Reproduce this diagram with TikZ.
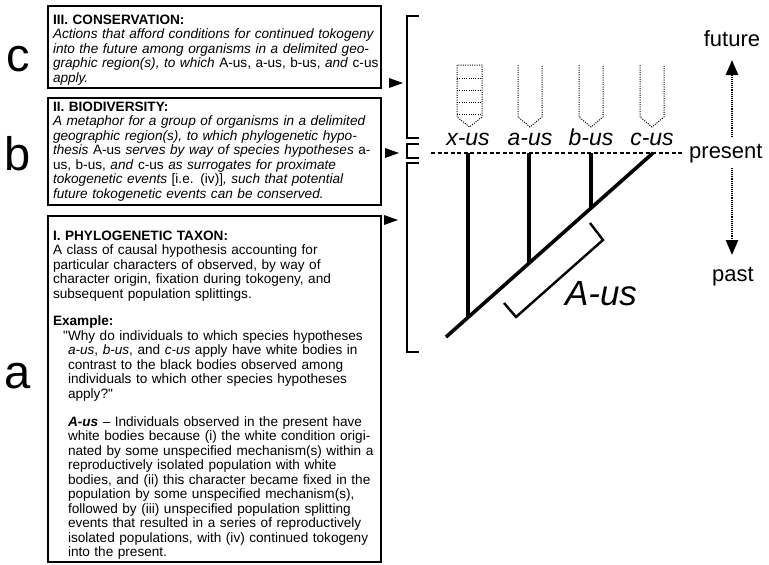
\documentclass[tikz,border=0pt]{standalone}
\usepackage{fontspec}
\setmainfont{Liberation Sans}
\usetikzlibrary{arrows.meta,calc}

\newcommand{\boxfont}{\fontsize{13.6}{14.5}\selectfont}
\newcommand{\gapline}{\\[13.4pt]}
\newcommand{\ind}{\hspace*{15pt}}

\begin{document}
\begin{tikzpicture}[x=1pt,y=-1pt,
  frame/.style={draw,line width=2pt,inner sep=0pt,outer sep=0pt,anchor=north west},
  boxtext/.style={inner sep=0pt,outer sep=0pt,anchor=north west,align=left,text width=340pt,font=\boxfont},
  bigletter/.style={inner sep=0pt,anchor=base,font=\fontsize{47}{47}\selectfont},
  pointer/.style={fill=black},
  brace/.style={line width=2pt},
  branch/.style={line width=3.6pt},
  nowline/.style={line width=2pt,dash pattern=on 4pt off 2.5pt},
  ghost/.style={line width=1pt,dash pattern=on 1pt off 1.3pt},
  taxlabel/.style={inner sep=0pt,anchor=base,font=\fontsize{23}{23}\selectfont\itshape},
  timelabel/.style={inner sep=0pt,font=\fontsize{22}{22}\selectfont},
  timearrow/.style={line width=2.6pt,dash pattern=on 1pt off 0.9pt,-{Triangle[width=12pt,length=15pt]}}
]
\useasboundingbox (0,0) rectangle (769,565);

% ---------- left column: the three definitions ----------
\node[frame,minimum width=333pt,minimum height=82pt] (boxIII) at (48,6) {};
\node[boxtext] (txtIII) at (53,13.9) {\strut\textbf{III. CONSERVATION:}\\
\textit{Actions that afford conditions for continued tokogeny}\\
\textit{into the future among organisms in a delimited geo-}\\
\textit{graphic region(s), to which} A-us, a-us, b-us, \textit{and} c-us\\
\textit{apply.}};

\node[frame,minimum width=333pt,minimum height=107pt] (boxII) at (48,98) {};
\node[boxtext] (txtII) at (53,101) {\strut\textbf{II. BIODIVERSITY:}\\
\textit{A metaphor for a group of organisms in a delimited}\\
\textit{geographic region(s), to which phylogenetic hypo-}\\
\textit{thesis} A-us \textit{serves by way of species hypotheses} a-\\
us, b-us, \textit{and} c-us \textit{as surrogates for proximate}\\
\textit{tokogenetic events} [i.e. (iv)]\textit{, such that potential}\\
\textit{future tokogenetic events can be conserved.}};

\node[frame,minimum width=333pt,minimum height=346pt] (boxI) at (48,216) {};
\node[boxtext] (txtI) at (53,229.9) {\strut\textbf{I. PHYLOGENETIC TAXON:}\\
A class of causal hypothesis accounting for\\
particular characters of observed, by way of\\
character origin, fixation during tokogeny, and\\
subsequent population splittings.\gapline
\textbf{Example:}\\
\ind\llap{\textquotedbl}Why do individuals to which species hypotheses\\
\ind\textit{a-us}, \textit{b-us}, and \textit{c-us} apply have white bodies in\\
\ind contrast to the black bodies observed among\\
\ind individuals to which other species hypotheses\\
\ind apply?\textquotedbl\gapline
\ind\textbf{\textit{A-us}} -- Individuals observed in the present have\\
\ind white bodies because (i) the white condition origi-\\
\ind nated by some unspecified mechanism(s) within a\\
\ind reproductively isolated population with white\\
\ind bodies, and (ii) this character became fixed in the\\
\ind population by some unspecified mechanism(s),\\
\ind followed by (iii) unspecified population splitting\\
\ind events that resulted in a series of reproductively\\
\ind isolated populations, with (iv) continued tokogeny\\
\ind into the present.};

\node[bigletter] (lc) at (18,71) {c};
\node[bigletter] (lb) at (18,170) {b};
\node[bigletter] (la) at (18,388) {a};

% ---------- pointers and brackets ----------
\fill[pointer] (389,78) -- (403,83) -- (389,88) -- cycle;
\fill[pointer] (385,148) -- (399,153) -- (385,158) -- cycle;
\fill[pointer] (384,215) -- (398,220) -- (384,225) -- cycle;

\draw[brace] (419,16) -- (407,16) -- (407,138) -- (419,138);
\draw[brace] (419,144) -- (407,144) -- (407,158) -- (419,158);
\draw[brace] (419,163) -- (407,163) -- (407,352) -- (419,352);

% ---------- the tree ----------
\coordinate (dashL) at (431,153);
\coordinate (dashR) at (682,153);
\coordinate (root) at (446,337);
\coordinate (ctop) at (653,153);
\coordinate (xtop) at (468,153);
\coordinate (atop) at (529,153);
\coordinate (btop) at (591,153);
\coordinate (xjoin) at (468,317.4);
\coordinate (ajoin) at (529,263.2);
\coordinate (bjoin) at (591,208.1);

\draw[nowline] (dashL) -- (dashR);
\draw[branch] (root) -- (ctop);
\draw[branch] (xtop) -- (xjoin);
\draw[branch] (atop) -- (ajoin);
\draw[branch] (btop) -- (bjoin);

% bracket marking the clade
\coordinate (clA) at (516,317);
\coordinate (clB) at (603,240);
\draw[line width=2.4pt] (504,303) -- (clA) -- (clB) -- (590,223);
\node[inner sep=0pt,font=\fontsize{35}{35}\selectfont\itshape] (Aus) at (601,294) {A-us};

% ---------- species labels and future lineages ----------
\node[taxlabel] (xus) at (468,145) {x-us};
\node[taxlabel] (aus) at (530,145) {a-us};
\node[taxlabel] (bus) at (591,145) {b-us};
\node[taxlabel] (cus) at (652,145) {c-us};

\draw[ghost] (457,65) -- (457,117) -- (469.5,127) -- (482,117) -- (482,65) -- cycle;
\foreach \yy in {78,90,102,114}
  \draw[ghost] (457,\yy) -- (482,\yy);
\foreach \xx in {530,591,652}
  \draw[ghost] (\xx-12,65) -- (\xx-12,117) -- (\xx,127) -- (\xx+12,117) -- (\xx+12,65);

% ---------- time axis ----------
\node[timelabel,anchor=base] (future) at (732,46) {future};
\node[timelabel,anchor=base west] (present) at (689,158) {present};
\node[timelabel,anchor=base] (past) at (733,281) {past};
\coordinate (upS) at (732,137);
\coordinate (upE) at (732,60);
\coordinate (dnS) at (732,168);
\coordinate (dnE) at (732,255);
\draw[timearrow] (upS) -- (upE);
\draw[timearrow] (dnS) -- (dnE);
\end{tikzpicture}
\end{document}
